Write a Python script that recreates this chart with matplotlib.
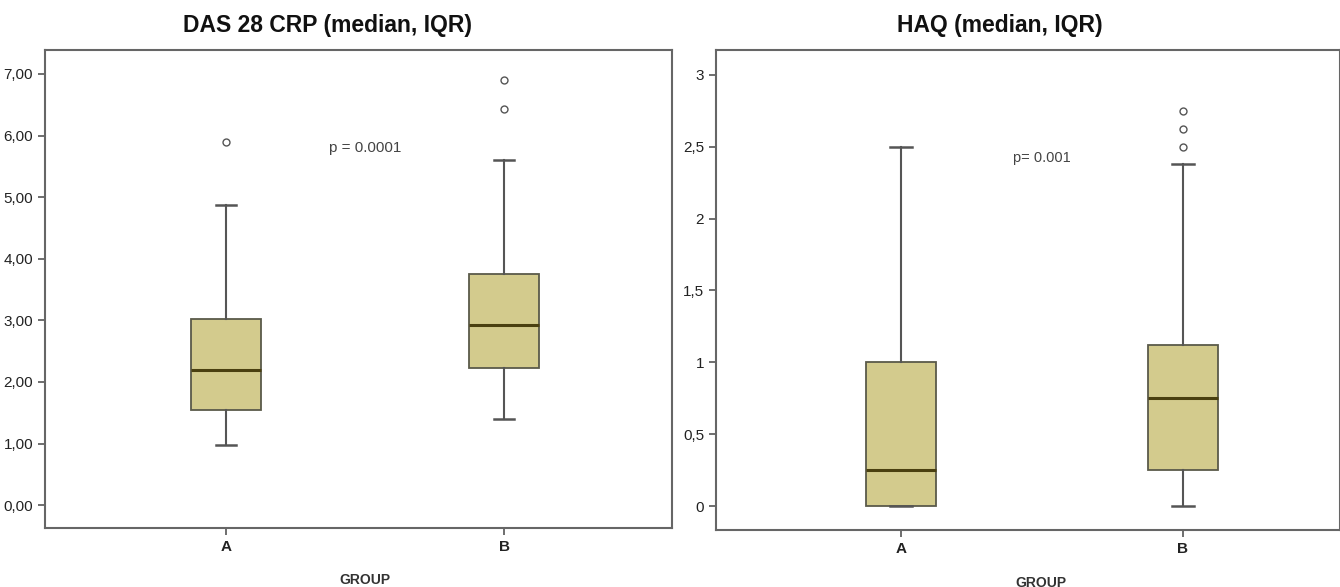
import matplotlib.pyplot as plt

plt.rcParams['font.family'] = ['Liberation Sans', 'DejaVu Sans']

# group labels
groups = ['A', 'B']

# DAS 28 CRP box stats
das_low = [0.97, 1.40]
das_q1 = [1.55, 2.23]
das_med = [2.20, 2.92]
das_q3 = [3.03, 3.75]
das_high = [4.87, 5.60]
das_out = [[5.90], [6.43, 6.90]]
das_ticks = [0, 1, 2, 3, 4, 5, 6, 7]
das_labels = ['0,00', '1,00', '2,00', '3,00', '4,00', '5,00', '6,00', '7,00']

# HAQ box stats
haq_low = [0.0, 0.0]
haq_q1 = [0.0, 0.25]
haq_med = [0.25, 0.75]
haq_q3 = [1.0, 1.12]
haq_high = [2.5, 2.38]
haq_out = [[], [2.5, 2.625, 2.75]]
haq_ticks = [0, 0.5, 1, 1.5, 2, 2.5, 3]
haq_labels = ['0', '0,5', '1', '1,5', '2', '2,5', '3']

box_fill = '#d3cb8d'
box_edge = '#5a5a4a'
med_col = '#4a4010'
line_col = '#555555'


def make_stats(low, q1, med, q3, high, out):
    stats = []
    for i in range(len(groups)):
        stats.append({'whislo': low[i], 'q1': q1[i], 'med': med[i], 'q3': q3[i],
                      'whishi': high[i], 'fliers': out[i], 'label': groups[i]})
    return stats


def draw_panel(ax, stats, ticks, labels, ylim, xlim, title, title_x, ptext, py, psize, gx):
    ax.bxp(stats, positions=[1, 2], widths=0.25, patch_artist=True,
           boxprops=dict(facecolor=box_fill, edgecolor=box_edge, linewidth=1.3),
           medianprops=dict(color=med_col, linewidth=2.2),
           whiskerprops=dict(color=line_col, linewidth=1.5),
           capprops=dict(color=line_col, linewidth=1.8),
           capwidths=0.075,
           flierprops=dict(marker='o', markersize=5, markerfacecolor='white',
                           markeredgecolor='#555555', markeredgewidth=1.0))
    ax.set_xlim(*xlim)
    ax.set_ylim(*ylim)
    ax.set_yticks(ticks)
    ax.set_yticklabels(labels)
    ax.set_xticks([1, 2])
    ax.set_xticklabels(groups, fontweight='bold')
    for s in ax.spines.values():
        s.set_color('#666666')
        s.set_linewidth(1.5)
    ax.tick_params(axis='both', colors='#555555', labelcolor='#222222',
                   labelsize=11, length=5, width=1.2)
    ax.set_xlabel('GROUP', fontsize=10, fontweight='bold', color='#333333', labelpad=14)
    ax.xaxis.set_label_coords(gx, -0.095)
    ax.set_title(title, fontsize=16.5, fontweight='bold', color='#111111', pad=13, x=title_x)
    ax.text(1.5, py, ptext, fontsize=psize, color='#444444', ha='center', va='center')


fig = plt.figure(figsize=(13.4, 5.87), dpi=100)
ax1 = fig.add_axes([0.0336, 0.1005, 0.4679, 0.8145])
ax2 = fig.add_axes([0.5343, 0.0971, 0.4657, 0.8179])

draw_panel(ax1, make_stats(das_low, das_q1, das_med, das_q3, das_high, das_out),
           das_ticks, das_labels, (-0.37, 7.39), (0.349, 2.604),
           'DAS 28 CRP (median, IQR)', 0.451, 'p = 0.0001', 5.8, 11, 0.51)
draw_panel(ax2, make_stats(haq_low, haq_q1, haq_med, haq_q3, haq_high, haq_out),
           haq_ticks, haq_labels, (-0.167, 3.174), (0.344, 2.557),
           'HAQ (median, IQR)', 0.455, 'p= 0.001', 2.42, 10.5, 0.52)

fig.savefig('out.png', dpi=100)
